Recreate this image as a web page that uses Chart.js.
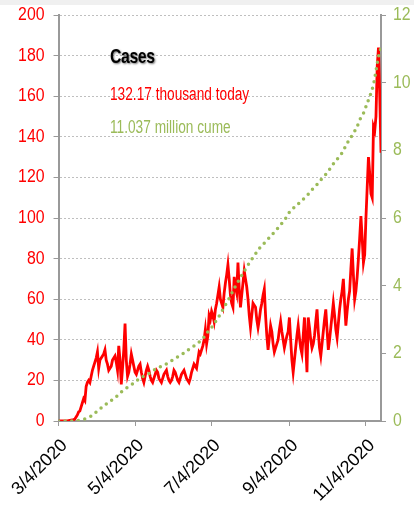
<!DOCTYPE html>
<html>
<head>
<meta charset="utf-8">
<script src="https://cdn.jsdelivr.net/npm/chart.js@4.4.1/dist/chart.umd.min.js"></script>
<style>
body{margin:0;background:#fff}
#wrap{position:relative;width:414px;height:508px}
#strip{position:absolute;left:0;top:0;width:414px;height:5px;background:#f0f0f0}
</style>
</head>
<body>
<div id="wrap"><canvas id="chart" width="414" height="508"></canvas><div id="strip"></div></div>
<script>
// x values are days since 3/4/2020
let tickDays = [0, 61, 122, 184, 245]
let tickLabels = ["3/4/2020", "5/4/2020", "7/4/2020", "9/4/2020", "11/4/2020"]

// daily new cases, thousands (one per day, 3/4 .. 11/16)
let dailyCases = [
0,0,0,0,0,0,0.1,0.1,0.2,0.3,
0.4,0.5,0.6,1,2,3,4.5,5,7,9,
11,10,17,19,20,19,22,25,27,29,
31,34,26,30,31,32,33,35,30,28,
25,26,27,30,31,32,29,25,37,30,
18,26,35,48,30,22,24,28,33,30,
27,24,23,25,27,28,24,21,19,22,
25,27,25,22,20,19,21,23,25,24,
21,20,19,21,23,24,25,22,20,19,
20,22,25,24,22,20,19,21,23,24,
25,23,21,20,19,21,24,26,28,27,
26,30,34,33,35,37,40,45,38,42,
52,50,54,52,49,55,58,62,66,60,
58,56,63,68,72,77,70,62,58,56,
71,66,63,78,65,56,62,68,74,70,
66,60,52,46,52,58,57,56,50,46,
50,55,58,62,65,52,42,35,41,47,
44,38,34,36,38,40,45,49,44,40,
36,39,42,44,51,40,30,24,30,36,
42,47,41,36,33,42,51,38,24,51,
46,40,36,38,42,49,55,44,36,32,
38,44,50,55,45,35,40,46,52,58,
52,45,41,48,55,60,64,70,58,47,
54,60,64,75,85,72,60,64,71,80,
90,101,90,78,82,100,115,130,122,112,
110,145,143,150,175,184,160,132.17
]

// cumulative cases, millions
let cumeDays = [0,10,15,20,25,28,32,36,40,45,49,53,57,61,65,70,74,78,83,87,92,96,100,104,108,112,116,119,123,126,129,131,134,137,139,142,145,148,151,154,157,160,164,170,176,181,184,188,192,196,200,203,207,210,214,217,220,224,227,229,232,235,238,240,243,245,247,249,251,252,253,254,255,257]
let cumeValues = [0,0,0.01,0.05,0.12,0.2,0.33,0.44,0.56,0.68,0.83,0.95,1.04,1.15,1.27,1.36,1.45,1.55,1.63,1.71,1.83,1.92,2.01,2.12,2.22,2.33,2.48,2.64,2.81,2.99,3.16,3.3,3.5,3.69,3.85,4.05,4.24,4.43,4.61,4.78,4.94,5.1,5.26,5.5,5.75,5.99,6.17,6.32,6.45,6.59,6.74,6.88,7.03,7.17,7.33,7.49,7.65,7.82,7.98,8.15,8.33,8.5,8.7,8.9,9.09,9.29,9.49,9.69,9.93,10.13,10.34,10.57,10.77,11.037]

let font = "'Liberation Sans', Arial, sans-serif"
let red = "#ff0000"
let green = "#9bbb59"
let axisGray = "#999999"

// draw text squeezed sideways, the original uses a narrow face
function narrowText(ctx, text, x, y, squeeze, align){
ctx.save()
ctx.translate(x, y)
ctx.scale(squeeze, 1)
ctx.textAlign = align
ctx.fillText(text, 0, 0)
ctx.restore()
}

function yLabels(chart, id, color, left){
let s = chart.scales[id]
let ctx = chart.ctx
ctx.save()
ctx.font = "18px " + font
ctx.fillStyle = color
ctx.textBaseline = "middle"
s.ticks.forEach(t => {
let y = s.getPixelForValue(t.value)
if(left) narrowText(ctx, String(t.value), s.right - 14, y, 0.88, "right")
else narrowText(ctx, String(t.value), s.left + 12, y, 0.88, "left")
})
ctx.restore()
}

let notes = {
id: "notes",
afterDraw(chart){
let ctx = chart.ctx
yLabels(chart, "y", red, true)
yLabels(chart, "y2", green, false)

ctx.save()
ctx.textBaseline = "alphabetic"
ctx.letterSpacing = "-0.5px"
ctx.font = "bold 21px " + font
ctx.shadowColor = "rgba(0,0,0,0.55)"
ctx.shadowBlur = 2
ctx.shadowOffsetX = 1
ctx.shadowOffsetY = 1
ctx.fillStyle = "#000"
narrowText(ctx, "Cases", 110, 63, 0.75, "left")
ctx.shadowColor = "transparent"
ctx.letterSpacing = "0px"
ctx.font = "18px " + font
ctx.fillStyle = red
narrowText(ctx, "132.17 thousand today", 110, 100, 0.76, "left")
ctx.fillStyle = green
narrowText(ctx, "11.037 million cume", 110, 133, 0.76, "left")
ctx.restore()
}
}

let chart = new Chart(document.getElementById("chart"), {
type: "line",
data: {
datasets: [
{
data: cumeDays.map((d, i) => ({x: d, y: cumeValues[i]})),
yAxisID: "y2",
borderColor: green,
borderWidth: 3.5,
borderDash: [0, 6.6],
borderCapStyle: "round",
pointRadius: 0,
fill: false,
order: 0
},
{
data: dailyCases.map((v, i) => ({x: i, y: v})),
yAxisID: "y",
borderColor: red,
borderWidth: 2.8,
pointRadius: 0,
tension: 0,
fill: false,
order: 1
}
]
},
options: {
responsive: false,
animation: false,
layout: {padding: {top: 15, left: 0, right: 0, bottom: 0}},
plugins: {legend: {display: false}, tooltip: {enabled: false}},
scales: {
x: {
type: "linear",
min: 0,
max: 257,
afterBuildTicks: s => { s.ticks = tickDays.map(v => ({value: v})) },
afterFit: s => { s.height = 87 },
grid: {drawOnChartArea: false, tickLength: 5, color: axisGray},
border: {color: axisGray, width: 2},
ticks: {
autoSkip: false,
minRotation: 45,
maxRotation: 45,
padding: 9,
labelOffset: 6,
color: "#000",
font: {family: font, size: 18},
callback: v => tickLabels[tickDays.indexOf(v)]
}
},
y: {
position: "left",
min: 0,
max: 200,
afterFit: s => { s.width = 56 },
grid: {color: "#bfbfbf", tickLength: 5, tickColor: axisGray, tickBorderDash: []},
border: {color: axisGray, width: 2, dash: [2, 2]},
ticks: {display: false, stepSize: 20}
},
y2: {
position: "right",
min: 0,
max: 12,
afterFit: s => { s.width = 33 },
grid: {drawOnChartArea: false, tickLength: 5, color: axisGray},
border: {color: axisGray, width: 2},
ticks: {display: false, stepSize: 2}
}
}
},
plugins: [notes]
})
</script>
</body>
</html>
